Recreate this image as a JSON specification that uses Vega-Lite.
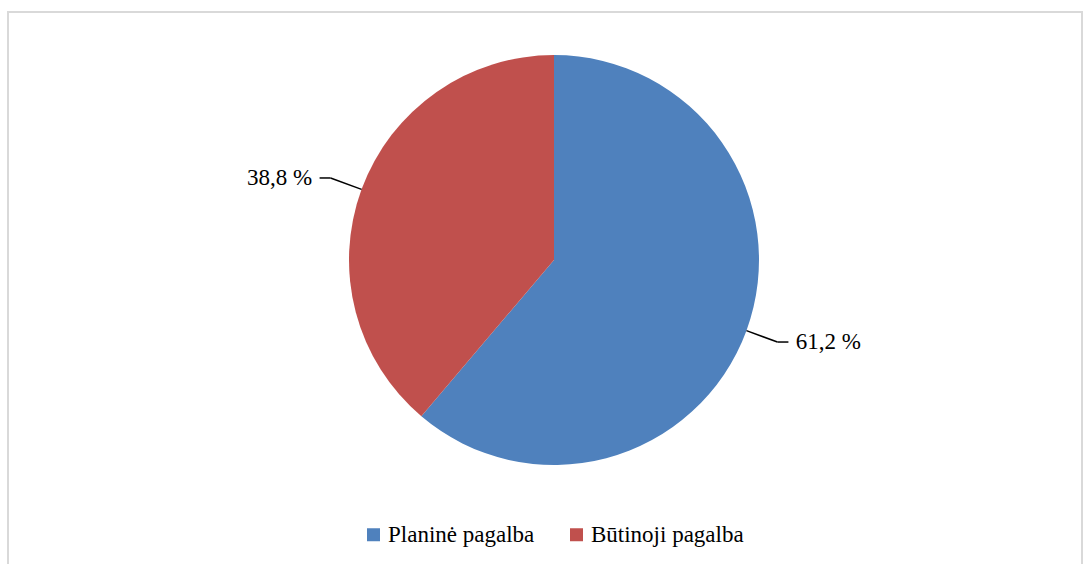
{
  "$schema": "https://vega.github.io/schema/vega-lite/v6.json",
  "width": 1083,
  "height": 564,
  "autosize": {"type": "fit", "contains": "padding"},
  "padding": {"left": 8, "top": 12, "right": 1, "bottom": -3},
  "background": "white",
  "config": {
    "view": {"stroke": "#d9d9d9", "strokeWidth": 2},
    "font": "Liberation Serif"
  },
  "data": {
    "values": [
      {"cat": "Planinė pagalba", "share": 61.2, "label": "61,2 %", "ord": 1},
      {"cat": "Būtinoji pagalba", "share": 38.8, "label": "38,8 %", "ord": 2}
    ]
  },
  "transform": [
    {"joinaggregate": [{"op": "sum", "field": "share", "as": "total"}]},
    {"window": [{"op": "sum", "field": "share", "as": "cum"}], "sort": [{"field": "ord"}], "frame": [null, 0]},
    {"calculate": "(datum.cum - datum.share / 2) / datum.total * 2 * PI", "as": "mid"},
    {"calculate": "sin(datum.mid) > 0 ? 1 : -1", "as": "side"},
    {"calculate": "205 * sin(datum.mid)", "as": "sx"},
    {"calculate": "205 * cos(datum.mid)", "as": "sy"},
    {"calculate": "238 * sin(datum.mid)", "as": "ex"},
    {"calculate": "238 * cos(datum.mid)", "as": "ey"},
    {"calculate": "datum.ex + datum.side * 11", "as": "hx"},
    {"calculate": "datum.hx + datum.side * 40", "as": "lx"}
  ],
  "layer": [
    {
      "mark": {"type": "arc", "outerRadius": 205, "stroke": null},
      "encoding": {
        "theta": {"field": "share", "type": "quantitative", "stack": true},
        "order": {"field": "ord", "type": "quantitative"},
        "x": {"datum": 0, "type": "quantitative", "scale": {"domain": [-546, 528], "nice": false, "zero": false}, "axis": null},
        "y": {"datum": 0, "type": "quantitative", "scale": {"domain": [-307, 248], "nice": false, "zero": false}, "axis": null},
        "color": {
          "field": "cat",
          "type": "nominal",
          "sort": ["Planinė pagalba", "Būtinoji pagalba"],
          "scale": {"domain": ["Planinė pagalba", "Būtinoji pagalba"], "range": ["#4F81BD", "#C0504D"]},
          "legend": {
            "title": null,
            "orient": "none",
            "direction": "horizontal",
            "legendX": 354,
            "legendY": 511,
            "symbolType": "square",
            "symbolSize": 169,
            "symbolStrokeWidth": 0,
            "labelFont": "Liberation Serif",
            "labelFontSize": 23,
            "labelColor": "#000000",
            "labelOffset": 3,
            "columnPadding": 30,
            "padding": 0
          }
        }
      }
    },
    {
      "mark": {"type": "rule", "color": "#000000", "strokeWidth": 1.5},
      "encoding": {
        "x": {"field": "sx", "type": "quantitative"},
        "y": {"field": "sy", "type": "quantitative"},
        "x2": {"field": "ex"},
        "y2": {"field": "ey"}
      }
    },
    {
      "mark": {"type": "rule", "color": "#000000", "strokeWidth": 1.5},
      "encoding": {
        "x": {"field": "ex", "type": "quantitative"},
        "y": {"field": "ey", "type": "quantitative"},
        "x2": {"field": "hx"},
        "y2": {"field": "ey"}
      }
    },
    {
      "mark": {"type": "text", "font": "Liberation Serif", "fontSize": 23, "color": "#000000", "align": "center", "baseline": "middle"},
      "encoding": {
        "x": {"field": "lx", "type": "quantitative"},
        "y": {"field": "ey", "type": "quantitative"},
        "text": {"field": "label"}
      }
    }
  ]
}
